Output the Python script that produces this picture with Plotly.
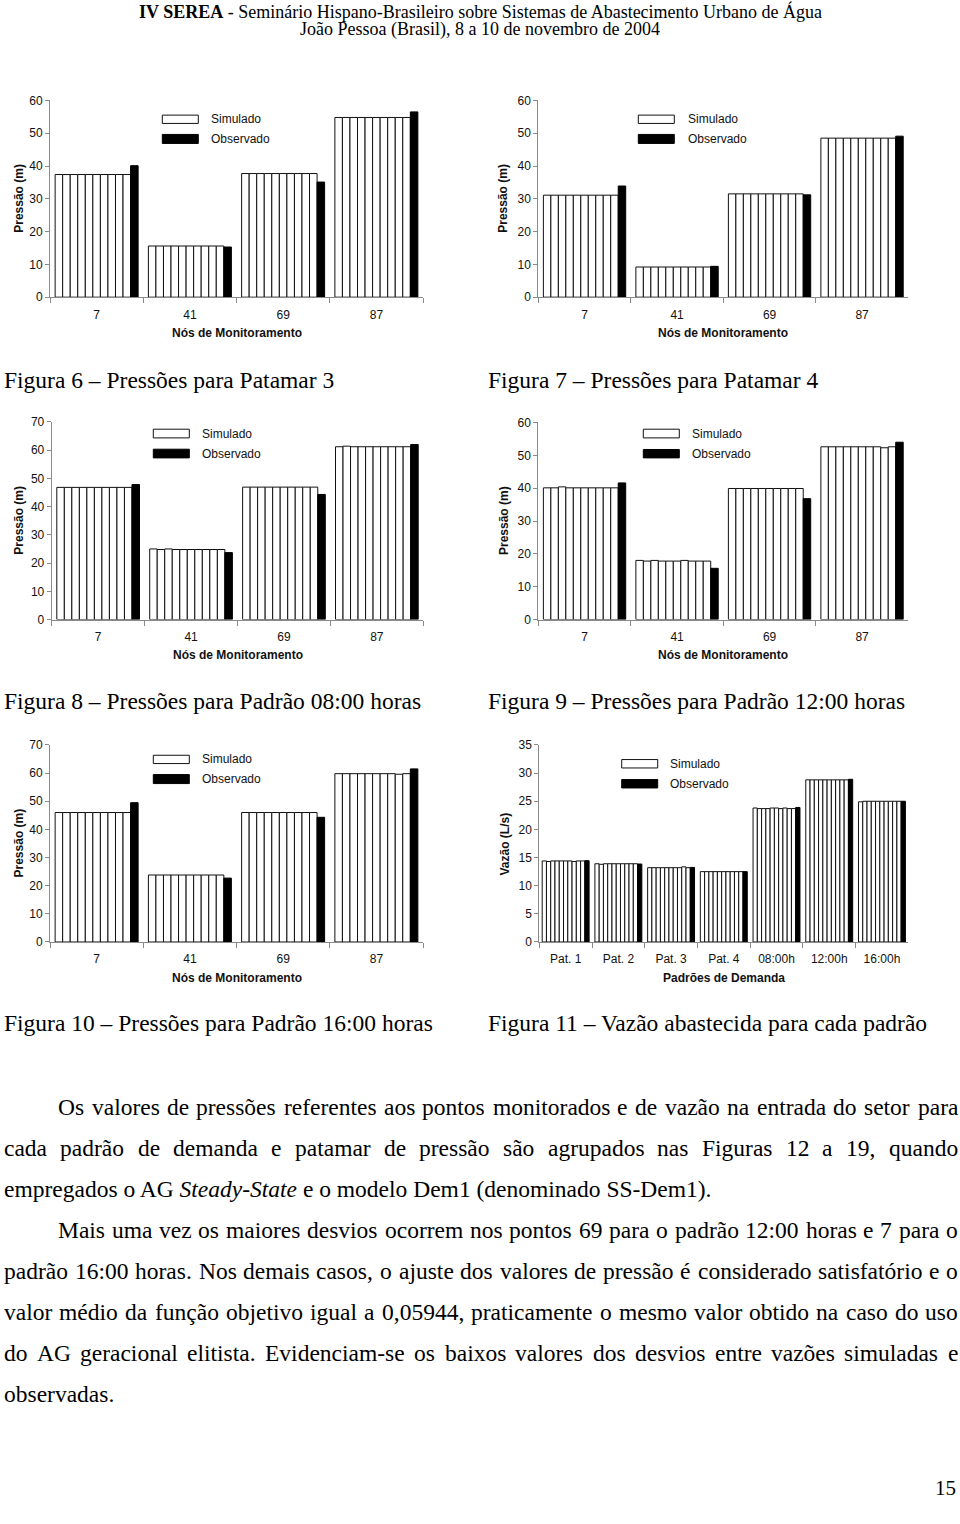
import unicodedata
import plotly.graph_objects as go

# ---------------- DATA ----------------
nodes = ["7", "41", "69", "87"]
patterns = ["Pat. 1", "Pat. 2", "Pat. 3", "Pat. 4", "08:00h", "12:00h", "16:00h"]

# simulated pressures: one list of 10 runs per node
pat3_sim = [
    [37.4, 37.4, 37.4, 37.4, 37.4, 37.4, 37.4, 37.4, 37.4, 37.4],
    [15.6, 15.6, 15.6, 15.6, 15.6, 15.6, 15.6, 15.6, 15.6, 15.6],
    [37.7, 37.7, 37.7, 37.7, 37.7, 37.7, 37.7, 37.7, 37.7, 37.7],
    [54.8, 54.8, 54.8, 54.8, 54.8, 54.8, 54.8, 54.8, 54.8, 54.8],
]
pat3_obs = [40.1, 15.3, 35.1, 56.5]

pat4_sim = [
    [31.1, 31.1, 31.1, 31.1, 31.1, 31.1, 31.1, 31.1, 31.1, 31.1],
    [9.2, 9.2, 9.2, 9.2, 9.2, 9.2, 9.2, 9.2, 9.2, 9.2],
    [31.5, 31.5, 31.5, 31.5, 31.5, 31.5, 31.5, 31.5, 31.5, 31.5],
    [48.5, 48.5, 48.5, 48.5, 48.5, 48.5, 48.5, 48.5, 48.5, 48.5],
]
pat4_obs = [33.9, 9.4, 31.2, 49.1]

h08_sim = [
    [46.8, 46.8, 46.8, 46.8, 46.8, 46.8, 46.8, 46.8, 46.8, 46.8],
    [25.0, 24.8, 25.0, 24.8, 24.8, 24.8, 24.8, 24.8, 24.8, 24.8],
    [46.9, 46.9, 46.9, 46.9, 46.9, 46.9, 46.9, 46.9, 46.9, 46.9],
    [61.2, 61.4, 61.2, 61.2, 61.2, 61.2, 61.2, 61.2, 61.2, 61.2],
]
h08_obs = [47.8, 23.7, 44.3, 62.0]

h12_sim = [
    [40.1, 40.1, 40.4, 40.1, 40.1, 40.1, 40.1, 40.1, 40.1, 40.1],
    [18.0, 17.8, 18.0, 17.8, 17.8, 17.8, 18.0, 17.8, 17.8, 17.8],
    [39.9, 39.9, 39.9, 39.9, 39.9, 39.9, 39.9, 39.9, 39.9, 39.9],
    [52.6, 52.6, 52.6, 52.6, 52.6, 52.6, 52.6, 52.6, 52.3, 52.6],
]
h12_obs = [41.6, 15.6, 36.8, 54.0]

h16_sim = [
    [46.0, 46.0, 46.0, 46.0, 46.0, 46.0, 46.0, 46.0, 46.0, 46.0],
    [23.8, 23.8, 23.8, 23.8, 23.8, 23.8, 23.8, 23.8, 23.8, 23.8],
    [46.0, 46.0, 46.0, 46.0, 46.0, 46.0, 46.0, 46.0, 46.0, 46.0],
    [59.8, 59.8, 59.8, 59.8, 59.8, 59.8, 59.8, 59.8, 59.6, 59.8],
]
h16_obs = [49.5, 22.7, 44.3, 61.5]

flow_sim = [
    [14.4, 14.3, 14.4, 14.4, 14.4, 14.4, 14.4, 14.3, 14.4, 14.4],
    [13.9, 13.8, 13.9, 13.9, 13.9, 13.9, 13.9, 13.9, 13.9, 13.9],
    [13.2, 13.2, 13.2, 13.2, 13.2, 13.2, 13.2, 13.2, 13.35, 13.2],
    [12.5, 12.5, 12.5, 12.5, 12.5, 12.5, 12.5, 12.5, 12.5, 12.5],
    [23.8, 23.7, 23.7, 23.7, 23.8, 23.8, 23.7, 23.8, 23.7, 23.7],
    [28.8, 28.8, 28.8, 28.8, 28.8, 28.8, 28.8, 28.8, 28.8, 28.8],
    [24.9, 25.0, 25.0, 25.0, 25.0, 25.0, 25.0, 25.0, 25.0, 25.0],
]
flow_obs = [14.45, 13.85, 13.25, 12.5, 23.9, 28.9, 25.0]

# ---------------- TEXT ----------------
header1 = "<b>IV SEREA</b> - Seminário Hispano-Brasileiro sobre Sistemas de Abastecimento Urbano de Água"
header2 = "João Pessoa (Brasil), 8 a 10 de novembro de 2004"
captions = [
    "Figura 6 – Pressões para Patamar 3",
    "Figura 7 – Pressões para Patamar 4",
    "Figura 8 – Pressões para Padrão 08:00 horas",
    "Figura 9 – Pressões para Padrão 12:00 horas",
    "Figura 10 – Pressões para Padrão 16:00 horas",
    "Figura 11 – Vazão abastecida para cada padrão",
]
body = [
    ("Os valores de pressões referentes aos pontos monitorados e de vazão na entrada do setor para", True, True),
    ("cada padrão de demanda e patamar de pressão são agrupados nas Figuras 12 a 19, quando", False, True),
    ("empregados o AG <i>Steady-State</i> e o modelo Dem1 (denominado SS-Dem1).", False, False),
    ("Mais uma vez os maiores desvios ocorrem nos pontos 69 para o padrão 12:00 horas e 7 para o", True, True),
    ("padrão 16:00 horas. Nos demais casos, o ajuste dos valores de pressão é considerado satisfatório e o", False, True),
    ("valor médio da função objetivo igual a 0,05944, praticamente o mesmo valor obtido na caso do uso", False, True),
    ("do AG geracional elitista. Evidenciam-se os baixos valores dos desvios entre vazões simuladas e", False, True),
    ("observadas.", False, False),
]

W, H = 960, 1524
SERIF = "Liberation Serif, Times New Roman, serif"
SANS = "Liberation Sans, Arial, sans-serif"


def X(px):
    return px / W


def Y(py):
    # page pixel (from top) -> paper fraction, with an empirical vertical correction
    q = (py - 6.9) / 0.9906
    return 1 - q / H


charts = [
    dict(cats=nodes, sim=pat3_sim, obs=pat3_obs, x0=50, x1=423, yt=100.3, yb=297, ymax=60, dtick=10,
         ytitle="Pressão (m)", xtitle="Nós de Monitoramento", ytx=19, xty=333,
         leg=(162.3, 198.3, 115, 123.3, 134.3, 143.3, 210)),
    dict(cats=nodes, sim=pat4_sim, obs=pat4_obs, x0=538.3, x1=908.3, yt=100.3, yb=297, ymax=60, dtick=10,
         ytitle="Pressão (m)", xtitle="Nós de Monitoramento", ytx=503, xty=333,
         leg=(638.3, 674.3, 115, 123.3, 134.3, 143.3, 687)),
    dict(cats=nodes, sim=h08_sim, obs=h08_obs, x0=51.7, x1=423.3, yt=421.7, yb=619.3, ymax=70, dtick=10,
         ytitle="Pressão (m)", xtitle="Nós de Monitoramento", ytx=19, xty=655,
         leg=(153.3, 189.3, 429, 437.7, 449, 457.7, 200.7)),
    dict(cats=nodes, sim=h12_sim, obs=h12_obs, x0=538.3, x1=908.3, yt=422.3, yb=619.3, ymax=60, dtick=10,
         ytitle="Pressão (m)", xtitle="Nós de Monitoramento", ytx=504, xty=655,
         leg=(643.3, 679.3, 429, 437.7, 449.3, 457.7, 690.7)),
    dict(cats=nodes, sim=h16_sim, obs=h16_obs, x0=50, x1=423, yt=744.7, yb=941.7, ymax=70, dtick=10,
         ytitle="Pressão (m)", xtitle="Nós de Monitoramento", ytx=19, xty=978,
         leg=(153.3, 189.3, 755, 763.3, 774.3, 783.3, 200.7)),
    dict(cats=patterns, sim=flow_sim, obs=flow_obs, x0=539.3, x1=908.3, yt=744.7, yb=941.7, ymax=35, dtick=5,
         ytitle="Vazão (L/s)", xtitle="Padrões de Demanda", ytx=505, xty=978,
         leg=(621.7, 657.7, 759.3, 767.7, 779.3, 787.7, 669.3)),
]

fig = go.Figure()
layout = {}
shapes = []
annotations = []

for i, ch in enumerate(charts, start=1):
    xa = "x" if i == 1 else f"x{i}"
    ya = "y" if i == 1 else f"y{i}"
    nruns = len(ch["sim"][0])
    for k in range(nruns):
        fig.add_trace(go.Bar(
            x=ch["cats"], y=[g[k] for g in ch["sim"]], xaxis=xa, yaxis=ya,
            marker=dict(color="white", line=dict(color="#111111", width=1)),
            showlegend=False, hoverinfo="skip"))
    fig.add_trace(go.Bar(
        x=ch["cats"], y=ch["obs"], xaxis=xa, yaxis=ya,
        marker=dict(color="black", line=dict(color="black", width=1)),
        showlegend=False, hoverinfo="skip"))

    layout["xaxis" if i == 1 else f"xaxis{i}"] = dict(
        domain=[X(ch["x0"]), X(ch["x1"])], anchor=ya, type="category",
        showline=True, linecolor="#8a8a8a", linewidth=1,
        ticks="outside", tickson="boundaries", ticklen=5, tickcolor="#8a8a8a",
        showgrid=False, zeroline=False, ticklabelstandoff=6,
        tickfont=dict(family=SANS, size=12, color="#111111"), fixedrange=True)
    layout["yaxis" if i == 1 else f"yaxis{i}"] = dict(
        domain=[Y(ch["yb"]), Y(ch["yt"])], anchor=xa, range=[0, ch["ymax"]], dtick=ch["dtick"],
        showline=True, linecolor="#8a8a8a", linewidth=1,
        ticks="outside", ticklen=4, tickcolor="#8a8a8a",
        showgrid=False, zeroline=False,
        tickfont=dict(family=SANS, size=12, color="#111111"), fixedrange=True)

    # axis titles
    annotations.append(dict(
        text=f"<b>{ch['ytitle']}</b>", x=X(ch["ytx"]), y=Y((ch["yt"] + ch["yb"]) / 2),
        xref="paper", yref="paper", showarrow=False, textangle=-90,
        font=dict(family=SANS, size=12, color="#111111"), xanchor="center", yanchor="middle"))
    annotations.append(dict(
        text=f"<b>{ch['xtitle']}</b>", x=X((ch["x0"] + ch["x1"]) / 2), y=Y(ch["xty"]),
        xref="paper", yref="paper", showarrow=False,
        font=dict(family=SANS, size=12, color="#111111"), xanchor="center", yanchor="middle"))

    # legend swatches
    lx0, lx1, wy0, wy1, by0, by1, tx = ch["leg"]
    shapes.append(dict(type="rect", xref="paper", yref="paper", x0=X(lx0), x1=X(lx1),
                       y0=Y(wy1), y1=Y(wy0), fillcolor="white", line=dict(color="#111111", width=1)))
    shapes.append(dict(type="rect", xref="paper", yref="paper", x0=X(lx0), x1=X(lx1),
                       y0=Y(by1), y1=Y(by0), fillcolor="black", line=dict(color="black", width=1)))
    annotations.append(dict(text="Simulado", x=X(tx), y=Y((wy0 + wy1) / 2), xref="paper", yref="paper",
                            showarrow=False, xanchor="left", yanchor="middle", borderpad=0,
                            font=dict(family=SANS, size=12, color="#111111")))
    annotations.append(dict(text="Observado", x=X(tx), y=Y((by0 + by1) / 2), xref="paper", yref="paper",
                            showarrow=False, xanchor="left", yanchor="middle", borderpad=0,
                            font=dict(family=SANS, size=12, color="#111111")))

# header
annotations.append(dict(text=header1, x=0.5, y=Y(11.5), xref="paper", yref="paper", showarrow=False,
                        xanchor="center", yanchor="middle", font=dict(family=SERIF, size=18, color="black")))
annotations.append(dict(text=header2, x=0.5, y=Y(29), xref="paper", yref="paper", showarrow=False,
                        xanchor="center", yanchor="middle", font=dict(family=SERIF, size=18, color="black")))

# captions
cap_pos = [(3, 380), (487, 380), (3, 701), (487, 701), (3, 1023), (487, 1023)]
for txt, (cx, cy) in zip(captions, cap_pos):
    annotations.append(dict(text=txt, x=X(cx), y=Y(cy), xref="paper", yref="paper", showarrow=False,
                            xanchor="left", yanchor="middle", borderpad=0,
                            font=dict(family=SERIF, size=23.5, color="black")))

# body text, justified using Times metrics
TW = {' ': 250, '!': 333, '(': 333, ')': 333, ',': 250, '-': 333, '.': 250, ':': 278,
      'A': 722, 'B': 667, 'C': 667, 'D': 722, 'E': 611, 'F': 556, 'G': 722, 'H': 722, 'I': 333,
      'J': 389, 'K': 722, 'L': 611, 'M': 889, 'N': 722, 'O': 722, 'P': 556, 'Q': 722, 'R': 667,
      'S': 556, 'T': 611, 'U': 722, 'V': 722, 'W': 944, 'X': 722, 'Y': 722, 'Z': 611,
      'a': 444, 'b': 500, 'c': 444, 'd': 500, 'e': 444, 'f': 333, 'g': 500, 'h': 500, 'i': 278,
      'j': 278, 'k': 500, 'l': 278, 'm': 778, 'n': 500, 'o': 500, 'p': 500, 'q': 500, 'r': 333,
      's': 389, 't': 278, 'u': 500, 'v': 500, 'w': 722, 'x': 500, 'y': 500, 'z': 444}
for d in "0123456789":
    TW[d] = 500


def word_w(w, fs):
    tot = 0
    for c in w:
        b = unicodedata.normalize("NFD", c)[0]
        tot += TW.get(b, 500)
    return tot / 1000 * fs


FS = 23.5
LEFT, RIGHT, INDENT = 3, 957, 57
for li, (line, indent, just) in enumerate(body):
    y = Y(1107 + 41 * li)
    x_left = INDENT if indent else LEFT
    if not just:
        annotations.append(dict(text=line, x=X(x_left), y=y, xref="paper", yref="paper", showarrow=False,
                                xanchor="left", yanchor="middle", borderpad=0,
                                font=dict(family=SERIF, size=FS, color="black")))
        continue
    words = line.split(" ")
    widths = [word_w(w, FS) for w in words]
    gap = (RIGHT - x_left - sum(widths)) / (len(words) - 1)
    gap = max(gap, 0.12 * FS)
    xpos = x_left
    for w, wd in zip(words, widths):
        annotations.append(dict(text=w, x=X(xpos), y=y, xref="paper", yref="paper", showarrow=False,
                                xanchor="left", yanchor="middle", borderpad=0,
                                font=dict(family=SERIF, size=FS, color="black")))
        xpos += wd + gap

# page number
annotations.append(dict(text="15", x=X(945), y=Y(1488), xref="paper", yref="paper", showarrow=False,
                        xanchor="center", yanchor="middle", font=dict(family=SERIF, size=21, color="black")))

fig.update_layout(
    width=W, height=H, margin=dict(l=0, r=0, t=0, b=0),
    paper_bgcolor="white", plot_bgcolor="white",
    barmode="group", bargap=0.11, bargroupgap=0,
    shapes=shapes, annotations=annotations, showlegend=False,
    **layout)

post = (
    "var de=document.documentElement, b=document.body;"
    "de.style.margin='0';de.style.padding='0';de.style.overflow='hidden';"
    "b.style.margin='0';b.style.padding='0';b.style.overflow='hidden';"
)
fig.write_html("out.html", post_script=post, config={"displayModeBar": False})
